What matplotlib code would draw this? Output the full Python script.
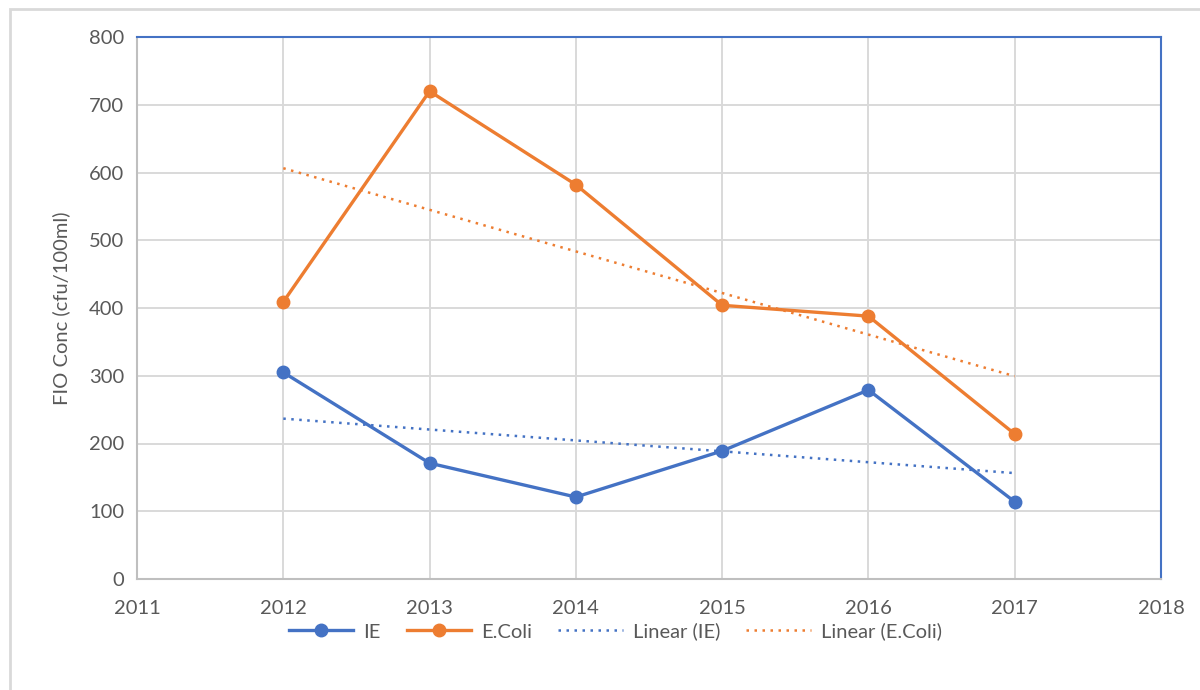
import numpy as np
import matplotlib.pyplot as plt
from matplotlib.patches import Rectangle

plt.rcParams['font.family'] = ['Lato', 'DejaVu Sans']

years = [2012, 2013, 2014, 2015, 2016, 2017]
ie = [305, 171, 121, 189, 279, 114]
ecoli = [409, 720, 582, 404, 388, 214]
x_ticks = [2011, 2012, 2013, 2014, 2015, 2016, 2017, 2018]
y_ticks = [0, 100, 200, 300, 400, 500, 600, 700, 800]

blue = '#4472C4'
orange = '#ED7D31'
grey_text = '#595959'

fig = plt.figure(figsize=(12, 6.9), dpi=100)
ax = fig.add_axes([137 / 1200, 1 - 579 / 690, (1161 - 137) / 1200, (579 - 37) / 690])

# outer chart frame
fig.patches.append(Rectangle((10 / 1200, -0.05), 1.2, 1 - 9 / 690 + 0.05, transform=fig.transFigure,
                             fill=False, edgecolor='#d9d9d9', linewidth=2, zorder=0))

ax.plot(years, ie, color=blue, lw=2.4, marker='o', ms=9, label='IE', zorder=4)
ax.plot(years, ecoli, color=orange, lw=2.4, marker='o', ms=9, label='E.Coli', zorder=4)

# linear trendlines, least squares as the spreadsheet does
yrs = np.array(years)
for vals, col, name in [(ie, blue, 'Linear (IE)'), (ecoli, orange, 'Linear (E.Coli)')]:
    k, b = np.polyfit(yrs, vals, 1)
    ax.plot(yrs, k * yrs + b, color=col, lw=1.8, linestyle=(0, (1, 2.2)), label=name, zorder=3)

ax.set_xlim(2011, 2018)
ax.set_ylim(0, 800)
ax.set_xticks(x_ticks)
ax.set_yticks(y_ticks)
ax.grid(True, color='#d9d9d9', lw=1.4, zorder=0)
ax.set_axisbelow(True)
ax.tick_params(length=0, labelsize=14.5, colors=grey_text, pad=9)
ax.tick_params(axis='x', pad=15)

for s in ['left', 'bottom']:
    ax.spines[s].set_color('#bfbfbf')
    ax.spines[s].set_linewidth(1.5)
for s in ['top', 'right']:
    ax.spines[s].set_color(blue)
    ax.spines[s].set_linewidth(1.5)

ax.set_ylabel('FIO Conc (cfu/100ml)', fontsize=14.5, color=grey_text, labelpad=14)

leg = ax.legend(loc='center', bbox_to_anchor=(0.467, -0.097), ncol=4, frameon=False,
                fontsize=14.5, handlelength=3.2, columnspacing=1.3, handletextpad=0.5)
for t in leg.get_texts():
    t.set_color(grey_text)

fig.savefig('out.png', dpi=100)
